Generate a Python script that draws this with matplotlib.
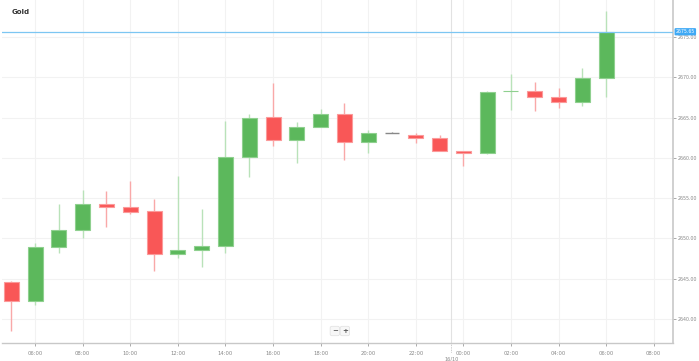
import matplotlib
matplotlib.use('Agg')
import matplotlib.pyplot as plt

# hourly candles, 15/10 05:00 -> 16/10 06:00 (hours counted from 15/10 00:00)
hours = [5, 6, 7, 8, 9, 10, 11, 12, 13, 14, 15, 16, 17, 18, 19,
         20, 21, 22, 23, 24, 25, 26, 27, 28, 29, 30]
opens = [2644.60, 2642.25, 2648.95, 2651.05, 2654.24, 2653.87, 2653.37, 2648.08, 2648.57,
         2649.03, 2660.07, 2665.04, 2662.18, 2663.87, 2665.41, 2661.94, 2663.13, 2662.80,
         2662.47, 2660.86, 2660.60, 2668.24, 2668.30, 2667.56, 2666.94, 2669.91]
highs = [2644.70, 2649.44, 2654.28, 2656.02, 2655.86, 2657.13, 2654.86, 2657.79, 2653.66,
         2664.58, 2665.45, 2669.26, 2664.49, 2666.10, 2666.77, 2663.46, 2663.15, 2663.13,
         2662.88, 2660.86, 2668.30, 2670.41, 2669.42, 2668.67, 2671.15, 2678.23]
lows = [2638.52, 2641.75, 2648.24, 2650.10, 2651.46, 2653.04, 2645.97, 2647.54, 2646.43,
        2648.16, 2657.59, 2661.48, 2659.40, 2663.87, 2659.74, 2660.57, 2663.11, 2661.89,
        2660.80, 2659.03, 2660.50, 2665.94, 2665.82, 2666.19, 2666.44, 2667.56]
closes = [2642.25, 2648.95, 2651.05, 2654.28, 2653.87, 2653.29, 2648.08, 2648.57, 2649.03,
          2660.07, 2664.99, 2662.18, 2663.87, 2665.41, 2662.01, 2663.13, 2663.13, 2662.47,
          2660.82, 2660.57, 2668.18, 2668.30, 2667.56, 2666.94, 2669.91, 2675.65]

last_price = 2675.65
tick_hours = [6, 8, 10, 12, 14, 16, 18, 20, 22, 24, 26, 28, 30, 32]
tick_labels = ['06:00', '08:00', '10:00', '12:00', '14:00', '16:00', '18:00',
               '20:00', '22:00', '00:00', '02:00', '04:00', '06:00', '08:00']
price_ticks = [2640, 2645, 2650, 2655, 2660, 2665, 2670, 2675]
day_break = 23.5
day_label = '16/10'

GREEN = '#5cb85c'
GREEN_W = '#b9e2b9'
RED = '#f95757'
RED_W = '#f9a8a8'
DOJI = '#888888'

fig = plt.figure(figsize=(6.99, 3.61), dpi=100)
ax = fig.add_axes([2 / 699, 18 / 361, 671 / 699, 343 / 361])

ax.set_xlim(4.61, 32.81)
ax.set_ylim(2637.03, 2679.59)

for h, o, hi, lo, c in zip(hours, opens, highs, lows, closes):
    if c > o:
        body, wick, edge = GREEN, GREEN_W, '#8fd08f'
    elif c < o:
        body, wick, edge = RED, RED_W, '#fb9a9a'
    else:
        body, wick, edge = DOJI, DOJI, DOJI
    ax.vlines(h, lo, hi, color=wick, lw=1.0, zorder=2)
    height = abs(c - o)
    if height < 0.05:
        ax.hlines(o, h - 0.31, h + 0.31, color=body, lw=1.0, zorder=3)
    else:
        ax.bar(h, height, bottom=min(o, c), width=0.63, color=body,
               edgecolor=edge, linewidth=0.8, zorder=3)

# grid
for t in tick_hours:
    ax.axvline(t, color='#f2f2f2', lw=0.8, zorder=0)
for p in price_ticks:
    ax.axhline(p, color='#f2f2f2', lw=0.8, zorder=0)
ax.axvline(day_break, color='#e2e2e2', lw=0.8, zorder=1)
ax.plot([day_break, day_break], [0.0, -0.03], transform=ax.get_xaxis_transform(),
        color='#bbbbbb', lw=0.6, ls=(0, (1, 1)), clip_on=False)
ax.text(day_break, -0.04, day_label, transform=ax.get_xaxis_transform(),
        ha='center', va='top', fontsize=3.6, color='#888888')

# last price line and label
ax.axhline(last_price, color='#7cc6f2', lw=0.9, zorder=4)
ax.text(1.004, last_price, f'{last_price:.2f}', transform=ax.get_yaxis_transform(),
        ha='left', va='center', fontsize=3.3, color='white', zorder=6,
        bbox=dict(boxstyle='round,pad=0.25', fc='#3fa9f5', ec='none'))

ax.set_xticks(tick_hours)
ax.set_xticklabels(tick_labels)
ax.set_yticks(price_ticks)
ax.set_yticklabels([f'{p:.2f}' for p in price_ticks])
ax.yaxis.tick_right()
ax.tick_params(axis='x', labelsize=3.8, colors='#888888', length=2, width=0.5, pad=3.5)
ax.tick_params(axis='y', labelsize=3.4, colors='#888888', length=2, width=0.5, pad=1.5)

for side in ['top', 'left']:
    ax.spines[side].set_visible(False)
ax.spines['right'].set_color('#c8c8c8')
ax.spines['right'].set_linewidth(1.2)
ax.spines['bottom'].set_color('#c8c8c8')
ax.spines['bottom'].set_linewidth(1.0)

ax.text(0.014, 0.965, 'Gold', transform=ax.transAxes, fontsize=5, fontweight='bold',
        color='#333333', ha='left', va='center')

# zoom buttons
ax.text(0.496, 0.035, '\u2212', transform=ax.transAxes, fontsize=5, color='#555555',
        ha='center', va='center', fontweight='bold',
        bbox=dict(boxstyle='round,pad=0.25', fc='#f7f7f7', ec='#e0e0e0', lw=0.5))
ax.text(0.511, 0.035, '+', transform=ax.transAxes, fontsize=5, color='#555555',
        ha='center', va='center', fontweight='bold',
        bbox=dict(boxstyle='round,pad=0.25', fc='#f7f7f7', ec='#e0e0e0', lw=0.5))

fig.savefig('out.png', dpi=100, facecolor='white')
